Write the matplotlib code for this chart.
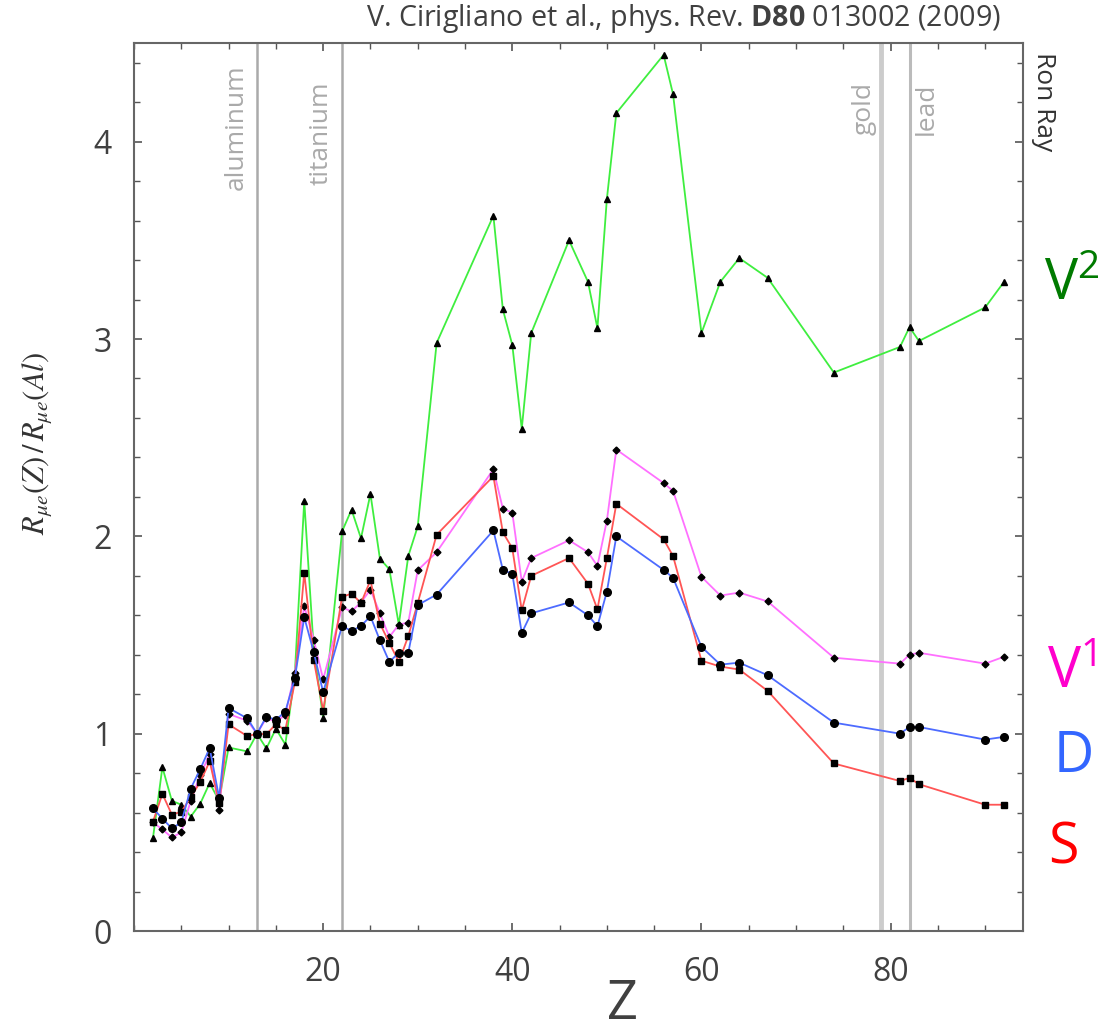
import matplotlib.pyplot as plt
from matplotlib.ticker import MultipleLocator, FixedLocator

plt.rcParams["mathtext.fontset"] = "custom"
plt.rcParams["mathtext.rm"] = "Open Sans"
plt.rcParams["mathtext.bf"] = "Open Sans:bold"

# nuclear charge of each target
z = [2, 3, 4, 5, 6, 7, 8, 9, 10, 12, 13, 14, 15, 16, 17, 18, 19, 20,
     22, 23, 24, 25, 26, 27, 28, 29, 30, 32, 38, 39, 40, 41, 42,
     46, 48, 49, 50, 51, 56, 57, 60, 62, 64, 67, 74, 81, 82, 83, 90, 92]

# conversion rate relative to aluminum, one list per operator type
v2 = [0.47, 0.83, 0.66, 0.64, 0.58, 0.645, 0.75, 0.66, 0.93, 0.91, 1.0, 0.925, 1.025, 0.945, 1.30, 2.18, 1.43, 1.08,
      2.025, 2.135, 1.99, 2.215, 1.887, 1.833, 1.553, 1.90, 2.05, 2.98, 3.625, 3.15, 2.97, 2.545, 3.03,
      3.50, 3.29, 3.055, 3.71, 4.145, 4.44, 4.24, 3.03, 3.29, 3.41, 3.31, 2.83, 2.96, 3.06, 2.99, 3.16, 3.29]
v1 = [0.55, 0.515, 0.474, 0.50, 0.66, 0.79, 0.895, 0.615, 1.10, 1.065, 1.0, 1.08, 1.06, 1.095, 1.31, 1.647, 1.477, 1.275,
      1.64, 1.62, 1.665, 1.73, 1.61, 1.49, 1.553, 1.563, 1.828, 1.92, 2.34, 2.14, 2.12, 1.77, 1.89,
      1.98, 1.92, 1.85, 2.08, 2.44, 2.27, 2.23, 1.795, 1.70, 1.715, 1.67, 1.385, 1.355, 1.40, 1.41, 1.355, 1.39]
s = [0.553, 0.695, 0.59, 0.604, 0.678, 0.755, 0.86, 0.65, 1.047, 0.987, 1.0, 0.997, 1.048, 1.018, 1.26, 1.816, 1.375, 1.117,
     1.693, 1.71, 1.662, 1.777, 1.558, 1.46, 1.364, 1.494, 1.662, 2.008, 2.305, 2.02, 1.94, 1.625, 1.80,
     1.89, 1.76, 1.63, 1.89, 2.165, 1.985, 1.90, 1.37, 1.34, 1.325, 1.217, 0.849, 0.76, 0.776, 0.744, 0.64, 0.64]
d = [0.621, 0.57, 0.52, 0.55, 0.722, 0.82, 0.927, 0.675, 1.13, 1.077, 1.0, 1.087, 1.07, 1.112, 1.28, 1.59, 1.414, 1.21,
     1.546, 1.52, 1.546, 1.595, 1.473, 1.364, 1.41, 1.41, 1.652, 1.705, 2.03, 1.83, 1.81, 1.51, 1.61,
     1.665, 1.60, 1.545, 1.72, 2.00, 1.83, 1.79, 1.44, 1.35, 1.36, 1.296, 1.056, 1.00, 1.034, 1.034, 0.97, 0.984]

elements = ["aluminum", "titanium", "gold", "lead"]
element_z = [13, 22, 79, 82]
x_ticks = [20, 40, 60, 80]

fig = plt.figure(figsize=(11.14, 10.34), dpi=100)
ax = fig.add_axes([0.1203, 0.0996, 0.7980, 0.8588])

# element markers
ax.axvline(13, color="#aaaaaa", lw=1.8, zorder=1)
ax.axvline(22, color="#aaaaaa", lw=1.8, zorder=1)
ax.axvline(79, color="#cccccc", lw=3.5, zorder=1)
ax.axvline(82, color="#bbbbbb", lw=2.2, zorder=1)
lab_kw = dict(rotation=90, color="#aaaaaa", fontsize=19, family="Open Sans",
              transform=ax.get_xaxis_transform(), va="bottom")
ax.text(element_z[0] - 0.9, 0.834, elements[0], ha="right", **lab_kw)
ax.text(element_z[1] - 0.9, 0.84, elements[1], ha="right", **lab_kw)
ax.text(element_z[2] - 0.5, 0.896, elements[2], ha="right", **lab_kw)
ax.text(element_z[3] + 0.5, 0.896, elements[3], ha="left", **lab_kw)

ax.plot(z, v2, color="#3fee3f", lw=1.3, marker="^", ms=4.5, mfc="black", mec="black", zorder=3)
ax.plot(z, v1, color="#ff70ff", lw=1.3, marker="D", ms=3.5, mfc="black", mec="black", zorder=4)
ax.plot(z, s, color="#ff5555", lw=1.3, marker="s", ms=5, mfc="black", mec="black", zorder=5)
ax.plot(z, d, color="#4d6bff", lw=1.3, marker="o", ms=5.5, mfc="black", mec="black", zorder=6)

ax.set_xlim(0, 94)
ax.set_ylim(0, 4.5)
ax.xaxis.set_major_locator(FixedLocator(x_ticks))
ax.xaxis.set_minor_locator(MultipleLocator(5))
ax.yaxis.set_major_locator(MultipleLocator(1))
ax.yaxis.set_minor_locator(MultipleLocator(0.2))
ax.tick_params(which="both", direction="in", top=True, right=True, color="#555555")
ax.tick_params(which="major", length=6, width=1.2, labelsize=23, labelcolor="#404040")
ax.tick_params(which="minor", length=4, width=1.0)
ax.tick_params(axis="x", pad=18)
ax.tick_params(axis="y", pad=16)
for lbl in ax.get_xticklabels() + ax.get_yticklabels():
    lbl.set_family("Open Sans")
for sp in ax.spines.values():
    sp.set_color("#666666")
    sp.set_linewidth(1.5)

ax.set_xlabel("Z", fontsize=39, family="Open Sans", color="#404040", va="bottom")
ax.xaxis.set_label_coords(0.549, -0.1135)
fig.text(0.034, 1 - 444 / 1034, r"$R_{\mu e}(Z)\,/\,R_{\mu e}(Al)$", rotation=90,
         ha="center", va="center", fontsize=22, color="#333333", math_fontfamily="stix")

fig.text(0.898, 0.982, r"V. Cirigliano et al., phys. Rev. $\mathbf{D80}$ 013002 (2009)",
         ha="right", va="center", fontsize=20.6, family="Open Sans", color="#404040")
fig.text(0.937, 0.95, "Ron Ray", rotation=-90, ha="center", va="top",
         fontsize=19, family="Open Sans", color="#333333")

big = dict(fontsize=40, family="Open Sans", ha="left", va="baseline")
fig.text(0.937, 1 - 300 / 1034, r"V$^2$", color="#007a00", **big)
fig.text(0.940, 1 - 688 / 1034, r"V$^1$", color="#ff00cc", **big)
fig.text(0.946, 1 - 772 / 1034, "D", color="#3366ff", **big)
fig.text(0.941, 1 - 863 / 1034, "S", color="#ff0000", **big)

plt.savefig("out.png", dpi=100)
